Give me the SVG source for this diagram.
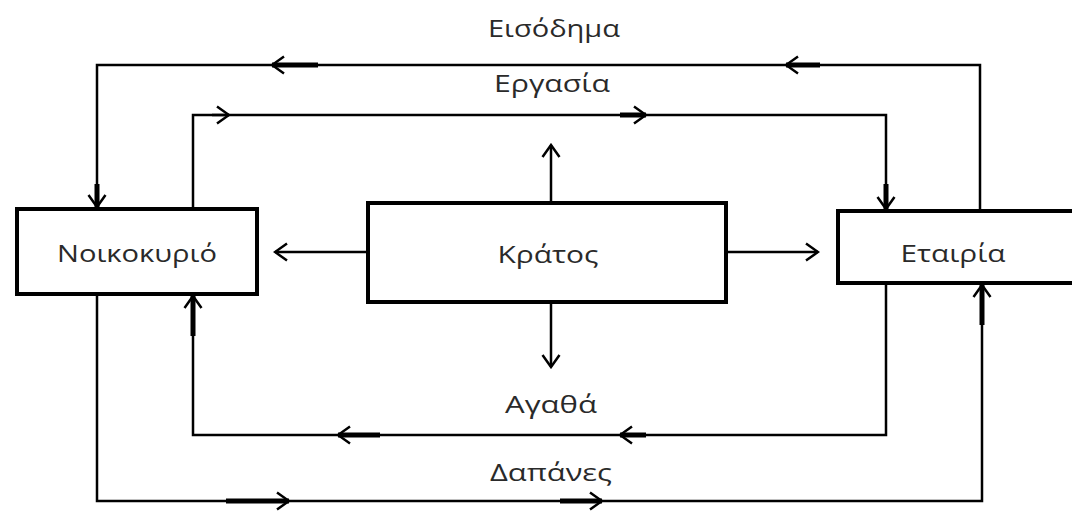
<svg xmlns="http://www.w3.org/2000/svg" width="1072" height="511" viewBox="0 0 1072 511">
<style>
  .box { fill: #fff; stroke: #000; stroke-width: 4; }
  .lbl { font-family: "Open Sans", "Noto Sans", "DejaVu Sans", sans-serif; font-size: 23px; fill: #2a2a2a; text-anchor: middle; }
  .wire { fill: none; stroke: #000; stroke-width: 2.5; }
  .bar { fill: none; stroke: #000; stroke-width: 5; marker-end: url(#chev); }
  .tip { fill: none; stroke: #000; stroke-width: 2.5; marker-end: url(#chev); }
</style>
<defs>
  <marker id="chev" viewBox="-14 -10 16 20" refX="0" refY="0" markerWidth="16" markerHeight="20" markerUnits="userSpaceOnUse" orient="auto">
    <path d="M-12,-8.5 L0,0 L-12,8.5" fill="none" stroke="#000" stroke-width="2.5"/>
  </marker>
</defs>
<rect width="1072" height="511" fill="#fff"/>

<g id="connectors">
  <!-- Income -->
  <polyline class="wire" points="980,211 980,65 97,65 97,207"/>
  <line class="bar" x1="820" y1="65" x2="786" y2="65"/>
  <line class="bar" x1="318" y1="65" x2="272" y2="65"/>
  <line class="bar" x1="97" y1="184" x2="97" y2="207"/>
  <!-- Labor -->
  <polyline class="wire" points="193,208 193,115 886,115 886,209"/>
  <line class="tip" x1="212" y1="115" x2="229" y2="115"/>
  <line class="bar" x1="620" y1="115" x2="646" y2="115"/>
  <line class="bar" x1="886" y1="184" x2="886" y2="209"/>
  <!-- Goods -->
  <polyline class="wire" points="886,284 886,435 193,435 193,296"/>
  <line class="bar" x1="646" y1="435" x2="620" y2="435"/>
  <line class="bar" x1="380" y1="435" x2="338" y2="435"/>
  <line class="bar" x1="193" y1="336" x2="193" y2="296"/>
  <!-- Expenses -->
  <polyline class="wire" points="97,295 97,501 982,501 982,285"/>
  <line class="bar" x1="226" y1="501" x2="289" y2="501"/>
  <line class="bar" x1="560" y1="501" x2="602" y2="501"/>
  <line class="bar" x1="982" y1="325" x2="982" y2="285"/>
  <!-- State -->
  <line class="tip" x1="551" y1="203" x2="551" y2="145"/>
  <line class="tip" x1="551" y1="302" x2="551" y2="367"/>
  <line class="tip" x1="367" y1="252" x2="275" y2="252"/>
  <line class="tip" x1="726" y1="252" x2="818" y2="252"/>
</g>

<g id="labels">
  <text class="lbl" x="554" y="37" textLength="132" lengthAdjust="spacingAndGlyphs">Εισόδημα</text>
  <text class="lbl" x="552" y="92" textLength="116" lengthAdjust="spacingAndGlyphs">Εργασία</text>
  <text class="lbl" x="551" y="413" textLength="92" lengthAdjust="spacingAndGlyphs">Αγαθά</text>
  <text class="lbl" x="551" y="481" textLength="122" lengthAdjust="spacingAndGlyphs">Δαπάνες</text>
</g>

<g id="household">
  <rect class="box" x="17" y="209" width="240" height="85"/>
  <text class="lbl" x="137" y="262" textLength="160" lengthAdjust="spacingAndGlyphs">Νοικοκυριό</text>
</g>
<g id="state">
  <rect class="box" x="368" y="203" width="358" height="99"/>
  <text class="lbl" x="548" y="263" textLength="101" lengthAdjust="spacingAndGlyphs">Κράτος</text>
</g>
<g id="firm">
  <rect class="box" x="838" y="211" width="260" height="72"/>
  <text class="lbl" x="953" y="262" textLength="105" lengthAdjust="spacingAndGlyphs">Εταιρία</text>
</g>
</svg>
